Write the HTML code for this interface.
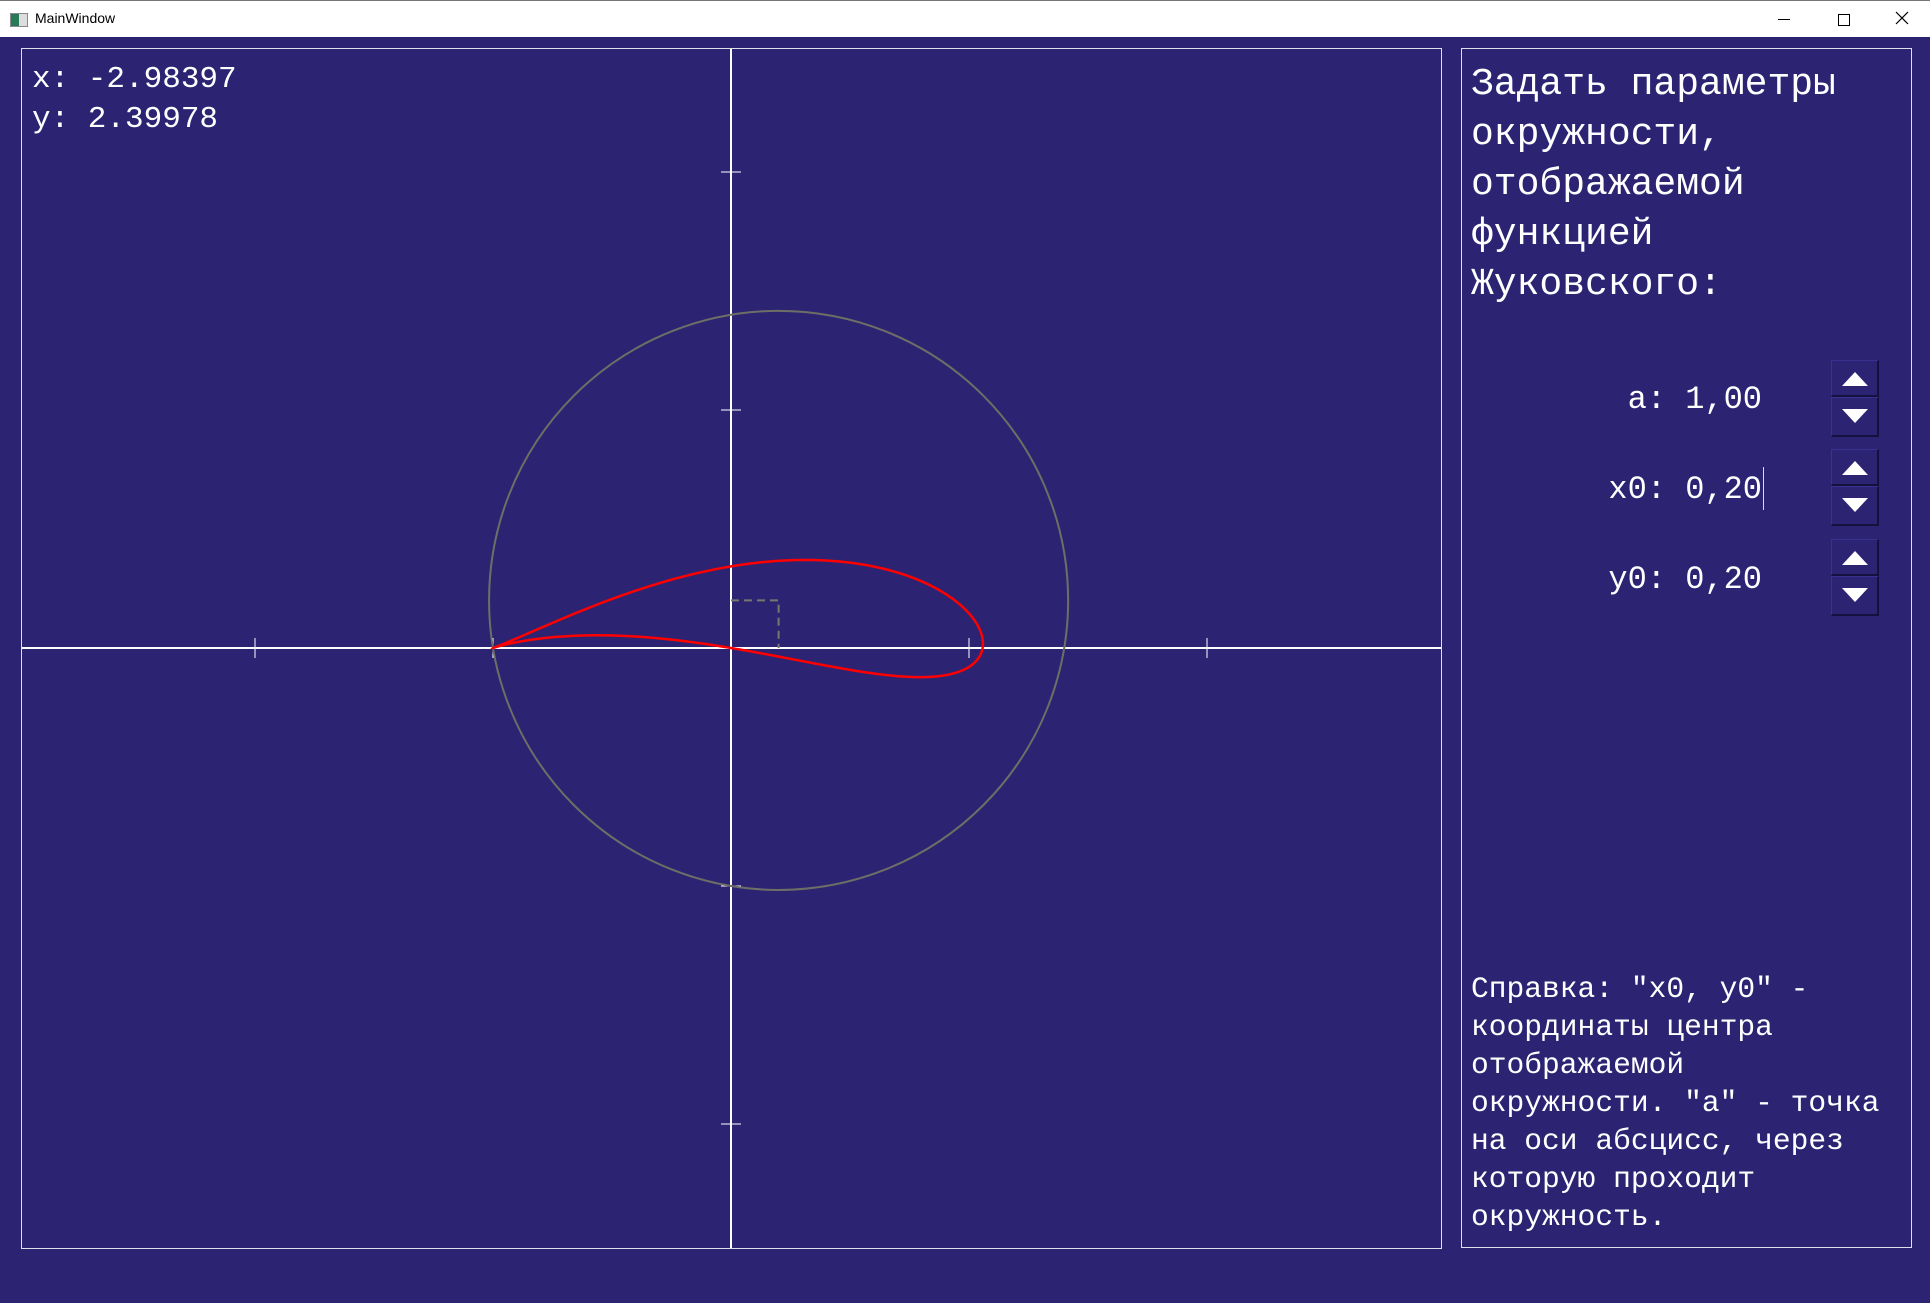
<!DOCTYPE html>
<html><head><meta charset="utf-8"><style>
html,body{margin:0;padding:0;width:1930px;height:1303px;overflow:hidden;background:#2c2473;}
#titlebar{position:absolute;left:0;top:0;width:1930px;height:37px;background:#fff;border-top:1px solid #777;box-sizing:border-box;}
.mono{font-family:"Liberation Mono","DejaVu Sans Mono",monospace;color:#fff;position:absolute;white-space:pre;}
.spin{position:absolute;left:1831px;width:48px;height:37px;background:#2c2473;border-top:1px solid #3a3290;border-left:1px solid #3a3290;border-right:2px solid #15113d;border-bottom:2px solid #15113d;box-sizing:border-box;}
.tri-up{position:absolute;left:10px;top:11px;width:0;height:0;border-left:13px solid transparent;border-right:13px solid transparent;border-bottom:14px solid #fff;}
.tri-dn{position:absolute;left:10px;top:11px;width:0;height:0;border-left:13px solid transparent;border-right:13px solid transparent;border-top:14px solid #fff;}
</style></head><body>
<div id="titlebar">
  <div style="position:absolute;left:10px;top:12px;width:16px;height:12px;border:1px solid #888;background:linear-gradient(90deg,#2a7a5a 50%,#ddd 50%);"></div>
  <div style="position:absolute;left:35px;top:9px;font:14px 'Liberation Sans',sans-serif;color:#000;">MainWindow</div>
  <div style="position:absolute;left:1778px;top:18px;width:12px;height:1px;background:#000;"></div>
  <div style="position:absolute;left:1838px;top:13px;width:10px;height:10px;border:1px solid #000;"></div>
  <div style="position:absolute;left:1893px;top:8px;width:18px;height:18px;">
    <svg width="18" height="18"><path d="M3 3L15 15M15 3L3 15" stroke="#000" stroke-width="1.2"/></svg>
  </div>
</div>

<svg id="plot" width="1930" height="1303" style="position:absolute;left:0;top:0;">
  <rect x="21.5" y="48.5" width="1420" height="1200" fill="none" stroke="#e0e0e8" stroke-width="1"/>
  <rect x="1461.5" y="48.5" width="450" height="1199" fill="none" stroke="#e0e0e8" stroke-width="1"/>
  <g id="g"></g>
</svg>

<div class="mono" style="left:32px;top:60px;font-size:31px;line-height:40px;">x: -2.98397</div>
<div class="mono" style="left:32px;top:100px;font-size:31px;line-height:40px;">y: 2.39978</div>

<div class="mono" style="left:1471px;top:60px;font-size:38px;line-height:50px;">Задать параметры
окружности,
отображаемой
функцией
Жуковского:</div>

<div class="mono" style="right:168px;top:380px;font-size:32px;line-height:40px;">a: 1,00</div>
<div class="spin" style="top:360px;"><div class="tri-up"></div></div>
<div class="spin" style="top:397px;height:40px;"><div class="tri-dn"></div></div>

<div class="mono" style="right:168px;top:470px;font-size:32px;line-height:40px;">x0: 0,20</div>
<div style="position:absolute;left:1763px;top:467px;width:1px;height:43px;background:#e8e0a0;"></div>
<div class="spin" style="top:449px;"><div class="tri-up"></div></div>
<div class="spin" style="top:486px;height:40px;"><div class="tri-dn"></div></div>

<div class="mono" style="right:168px;top:560px;font-size:32px;line-height:40px;">y0: 0,20</div>
<div class="spin" style="top:539px;"><div class="tri-up"></div></div>
<div class="spin" style="top:576px;height:40px;"><div class="tri-dn"></div></div>

<div class="mono" style="left:1471px;top:970px;font-size:29.6px;line-height:38px;">Справка: "x0, y0" -
координаты центра
отображаемой
окружности. "a" - точка
на оси абсцисс, через
которую проходит
окружность.</div>

<script>
const params = [1.0, 0.2, 0.2]; // a, x0, y0
const xTicks = [-2, -1, 1, 2];
const yTicks = [-2, -1, 1, 2];
const ox = 731, oy = 648, unit = 238;
function sx(v){return ox + v*unit;}
function sy(v){return oy - v*unit;}
const NS='http://www.w3.org/2000/svg';
const g=document.getElementById('g');
function mk(tag,attrs){const e=document.createElementNS(NS,tag);for(const k in attrs)e.setAttribute(k,attrs[k]);g.appendChild(e);return e;}
let e;
e=mk('line',{x1:22,y1:oy,x2:1441,y2:oy,stroke:'#fff','stroke-width':2});


e=mk('line',{x1:ox,y1:49,x2:ox,y2:1248,stroke:'#fff','stroke-width':2});


xTicks.forEach(t=>{
  e=mk('line',{x1:sx(t),y1:oy-10,x2:sx(t),y2:oy+10,stroke:'#fff','stroke-width':1});
  
  
});
yTicks.forEach(t=>{
  e=mk('line',{x1:ox-10,y1:sy(t),x2:ox+10,y2:sy(t),stroke:'#fff','stroke-width':1});
  
  
});
const a=params[0], x0=params[1], y0=params[2];
const R=Math.sqrt((a+x0)*(a+x0)+y0*y0);
e=mk('circle',{cx:sx(x0),cy:sy(y0),r:R*unit,fill:'none',stroke:'#6e6e66','stroke-width':2});


e=mk('polyline',{points:`${sx(0)},${sy(y0)} ${sx(x0)},${sy(y0)} ${sx(x0)},${sy(0)}`,fill:'none',stroke:'#77776f','stroke-width':2,'stroke-dasharray':'8,5'});


let pts=[];
for(let i=0;i<=720;i++){
  const th=i/720*2*Math.PI;
  const zx=x0+R*Math.cos(th), zy=y0+R*Math.sin(th);
  const d=zx*zx+zy*zy;
  const wx=(zx+a*a*zx/d)/2, wy=(zy-a*a*zy/d)/2;
  pts.push(sx(wx).toFixed(2)+','+sy(wy).toFixed(2));
}
e=mk('polyline',{points:pts.join(' '),fill:'none',stroke:'#ff0000','stroke-width':2.5});


</script>
</body></html>
